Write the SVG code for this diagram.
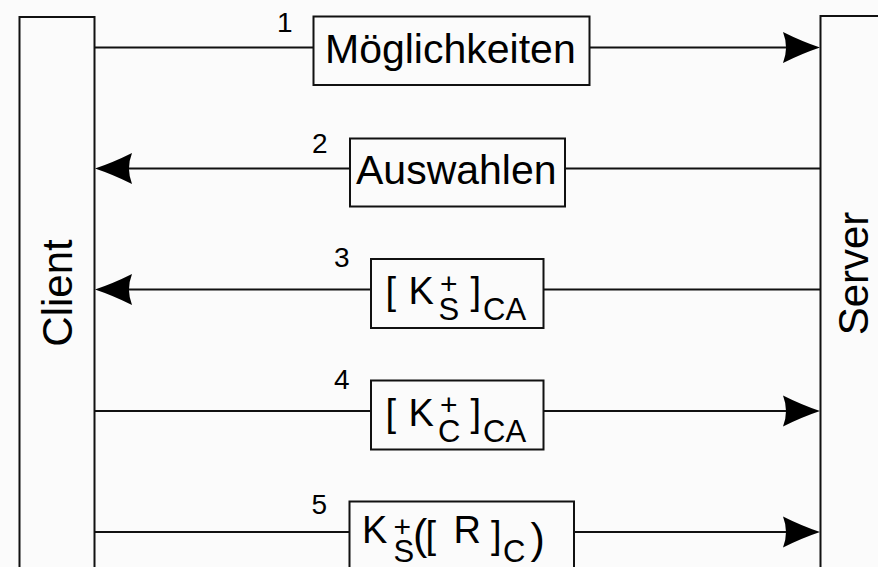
<svg xmlns="http://www.w3.org/2000/svg" width="878" height="567" viewBox="0 0 878 567">
<defs>
<style>
.box{fill:#fbfbfb;stroke:#111;stroke-width:2}
.ln{fill:none;stroke:#111;stroke-width:2}
.head{fill:#000;stroke:none}
text{font-family:"Liberation Sans",Arial,Helvetica,sans-serif;fill:#000}
.big{font-size:41px}
.lbl{font-size:42px}
.num{font-size:28px}
.m{font-size:38px}
.sup{font-size:30px}
.sub{font-size:31px}
.sub2{font-size:31px}
.par{font-size:43px}
</style>
<path id="ah" d="M0,0 Q-18,-6 -37,-15.5 Q-31,0 -37,15.5 Q-18,6 0,0 Z"/>
</defs>
<rect x="0" y="0" width="878" height="567" fill="#fbfbfb"/>

<g id="connectors">
<line class="ln" x1="94.5" y1="47.5" x2="313.5" y2="47.5"/>
<line class="ln" x1="589.5" y1="47.5" x2="800" y2="47.5"/>
<use href="#ah" class="head" transform="translate(820,47.5)"/>
<line class="ln" x1="350" y1="168.5" x2="115" y2="168.5"/>
<use href="#ah" class="head" transform="translate(95,168.5) scale(-1,1)"/>
<line class="ln" x1="820.5" y1="168.5" x2="565" y2="168.5"/>
<line class="ln" x1="371" y1="289.5" x2="115" y2="289.5"/>
<use href="#ah" class="head" transform="translate(95,289.5) scale(-1,1)"/>
<line class="ln" x1="820.5" y1="289.5" x2="543" y2="289.5"/>
<line class="ln" x1="94.5" y1="411" x2="371" y2="411"/>
<line class="ln" x1="543" y1="411" x2="800" y2="411"/>
<use href="#ah" class="head" transform="translate(820,411)"/>
<line class="ln" x1="94.5" y1="532" x2="349.5" y2="532"/>
<line class="ln" x1="574" y1="532" x2="800" y2="532"/>
<use href="#ah" class="head" transform="translate(820,532)"/>
</g>

<g id="client">
<rect class="box" x="19.5" y="17" width="75" height="600"/>
<text class="lbl" transform="translate(72,293) rotate(-90)" text-anchor="middle">Client</text>
</g>

<g id="server">
<rect class="box" x="820.5" y="16" width="80" height="600"/>
<text class="lbl" transform="translate(868,273.5) rotate(-90)" text-anchor="middle">Server</text>
</g>

<g id="msg1">
<text class="num" x="277" y="32">1</text>
<rect class="box" x="313.5" y="16.5" width="276" height="68.5"/>
<text class="big" x="325" y="62.5">Möglichkeiten</text>
</g>

<g id="msg2">
<text class="num" x="312" y="153">2</text>
<rect class="box" x="350" y="138.5" width="215" height="68"/>
<text class="big" x="356" y="183.5">Auswahlen</text>
</g>

<g id="msg3">
<text class="num" x="334" y="267">3</text>
<rect class="box" x="371" y="259" width="172.5" height="69"/>
<text><tspan class="m" x="385.5" y="304">[</tspan><tspan class="m" x="408.5" y="304">K</tspan><tspan class="sup" x="440" y="293.5">+</tspan><tspan class="sub" x="438.5" y="320">S</tspan><tspan class="m" x="470.5" y="304">]</tspan><tspan class="sub2" x="483" y="320">CA</tspan></text>
</g>

<g id="msg4">
<text class="num" x="334" y="388.5">4</text>
<rect class="box" x="371" y="380.5" width="172.5" height="69"/>
<text><tspan class="m" x="385.5" y="425.5">[</tspan><tspan class="m" x="408.5" y="425.5">K</tspan><tspan class="sup" x="440" y="415">+</tspan><tspan class="sub" x="438" y="441.5">C</tspan><tspan class="m" x="470.5" y="425.5">]</tspan><tspan class="sub2" x="483" y="441.5">CA</tspan></text>
</g>

<g id="msg5">
<text class="num" x="311.5" y="514">5</text>
<rect class="box" x="349.5" y="501.5" width="224.5" height="70"/>
<text><tspan class="m" x="362" y="543">K</tspan><tspan class="sup" x="393.5" y="536.5">+</tspan><tspan class="sub" x="393.5" y="561.5">S</tspan><tspan class="par" x="413" y="549">(</tspan><tspan class="m" x="425.5" y="548">[</tspan><tspan class="m" x="453.5" y="543">R</tspan><tspan class="m" x="491" y="548">]</tspan><tspan class="sub2" x="503" y="561.5">C</tspan><tspan class="par" x="530.5" y="553">)</tspan></text>
</g>
</svg>
